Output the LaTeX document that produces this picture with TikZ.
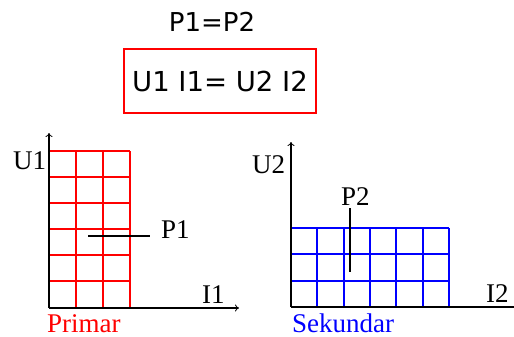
\documentclass[tikz,border=0pt]{standalone}
\usepackage{fontspec}
\setmainfont{Liberation Serif}
\newfontfamily\labsans{DejaVu Sans}
\usetikzlibrary{arrows.meta}
\begin{document}
\begin{tikzpicture}[x=1pt,y=-1pt,
  axis/.style={black,line width=1.6pt},
  axarrow/.style={-{To[length=4pt,width=7pt,line width=0.8pt]}},
  gridred/.style={red,line width=1.5pt},
  gridblue/.style={blue,line width=1.5pt},
  serlab/.style={inner sep=0pt,font=\fontsize{27}{27}\selectfont},
  pointer/.style={black,line width=1.2pt}]
\useasboundingbox (0,0) rectangle (514,337);
% top
\node[inner sep=0pt,font=\labsans\fontsize{26}{26}\selectfont] (eq1) at (212,22) {P1=P2};
\node[draw=red,line width=1.2pt,minimum width=192pt,minimum height=64pt,inner sep=0pt,
      font=\labsans\fontsize{27.5}{27.5}\selectfont] (eq2) at (220,81) {U1 I1= U2 I2};
% left chart
\foreach \x in {49,76,103,130} \draw[gridred] (\x,151) -- (\x,308);
\foreach \y in {151,177,203,229,255,281,308} \draw[gridred] (49,\y) -- (130,\y);
\coordinate (o1) at (49,308);
\coordinate (y1) at (49,133);
\coordinate (x1) at (239,308);
\draw[axis,axarrow] (o1) -- (y1);
\draw[axis,axarrow] (o1) -- (x1);
\node[serlab,anchor=base west] (u1) at (13,169) {U1};
\node[serlab,anchor=base west] (i1) at (202,303) {I1};
\node[serlab,anchor=base west] (p1) at (161,238) {P1};
\coordinate (p1s) at (88,236);
\coordinate (p1e) at (150,236);
\draw[pointer] (p1s) -- (p1e);
\node[serlab,anchor=base west,text=red] (prim) at (47,332) {Primar};
% right chart
\foreach \x in {291,317,344,370,396,423,449} \draw[gridblue] (\x,228) -- (\x,307);
\foreach \y in {228,254,281,307} \draw[gridblue] (291,\y) -- (449,\y);
\coordinate (o2) at (291,307);
\coordinate (y2) at (291,142);
\coordinate (x2) at (514,307);
\draw[axis,axarrow] (o2) -- (y2);
\draw[axis] (o2) -- (x2);
\node[serlab,anchor=base west] (u2) at (252,173) {U2};
\node[serlab,anchor=base west] (i2) at (486,302) {I2};
\node[serlab,anchor=base west] (p2) at (341,205) {P2};
\coordinate (p2s) at (350,208);
\coordinate (p2e) at (350,272);
\draw[pointer] (p2s) -- (p2e);
\node[serlab,anchor=base west,text=blue] (sek) at (292,332) {Sekundar};
\end{tikzpicture}
\end{document}
